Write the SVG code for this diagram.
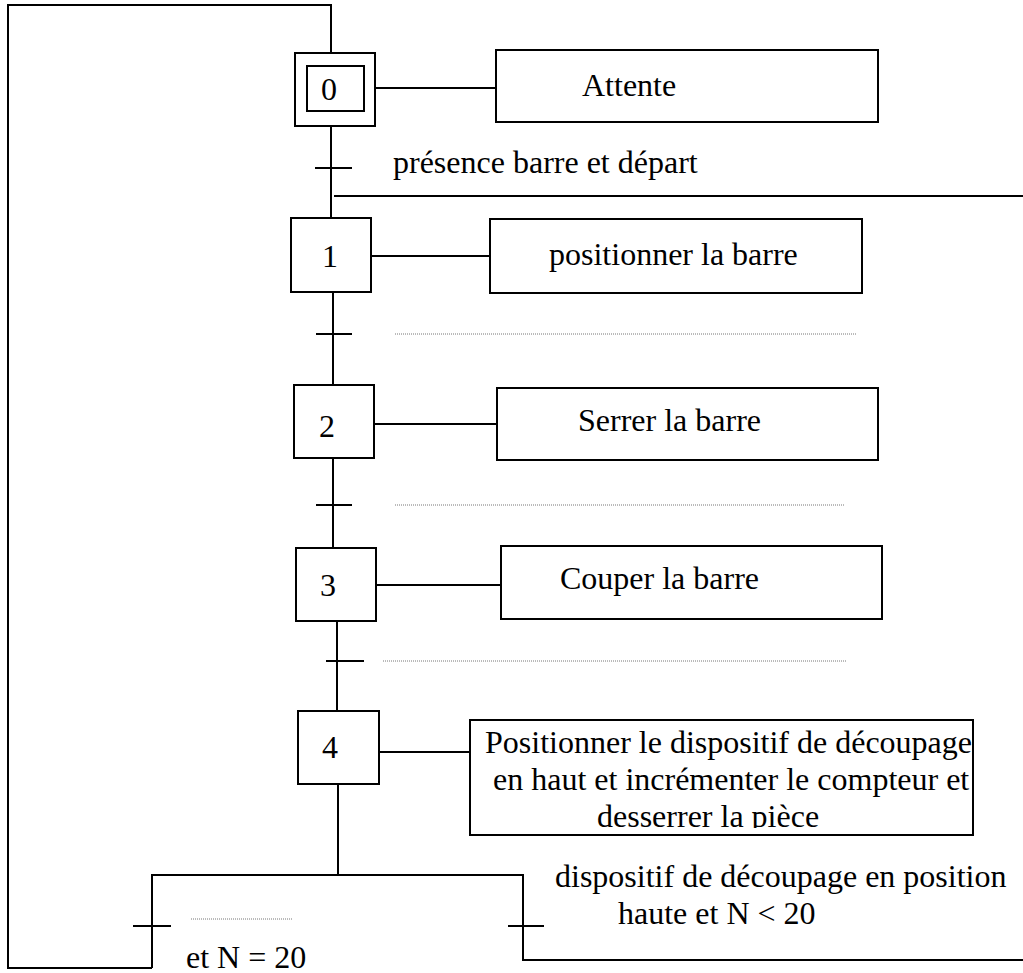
<svg xmlns="http://www.w3.org/2000/svg" width="1023" height="973" viewBox="0 0 1023 973">
<style>
.ln{fill:none;stroke:#000;stroke-width:2}
.box{fill:#fff;stroke:#000;stroke-width:2}
.dot{fill:none;stroke:#777;stroke-width:1;stroke-dasharray:1 1}
text{font-family:"Liberation Serif","Times New Roman",serif;font-size:32px;fill:#000}
.c{text-anchor:middle}
</style>
<defs>
<clipPath id="clip4"><rect x="471" y="721" width="501" height="107"/></clipPath>
</defs>
<g id="connectors">
<path class="ln" d="M331,52 V5 H8 V968 H152"/>
<path class="ln" d="M152,968 V875 H523 V960 H1023"/>
<path class="ln" d="M331,126 V218"/>
<path class="ln" d="M334,196 H1023"/>
<path class="ln" d="M333,292 V385"/>
<path class="ln" d="M333,458 V547"/>
<path class="ln" d="M337,621 V711"/>
<path class="ln" d="M338,784 V875"/>
<path class="ln" d="M375,88 H496"/>
<path class="ln" d="M371,256 H490"/>
<path class="ln" d="M375,424 H497"/>
<path class="ln" d="M376,585 H501"/>
<path class="ln" d="M379,752 H470"/>
</g>
<g id="transitions">
<path class="ln" d="M315,168 H352"/>
<path class="ln" d="M316,334 H352"/>
<path class="ln" d="M316,505 H352"/>
<path class="ln" d="M326,661 H364"/>
<path class="ln" d="M133,926 H171"/>
<path class="ln" d="M508,926 H544"/>
<path class="dot" d="M395,334 H857"/>
<path class="dot" d="M395,505 H845"/>
<path class="dot" d="M383,661 H846"/>
<path class="dot" d="M191,919 H292"/>
<text x="393" y="173">présence barre et départ</text>
<text x="555" y="887">dispositif de découpage en position</text>
<text x="618" y="924">haute et N &lt; 20</text>
<text x="186" y="968">et N = 20</text>
</g>
<g id="step0">
<rect class="box" x="295" y="53" width="80" height="73"/>
<rect class="box" x="307" y="66" width="57" height="45"/>
<text class="c" x="329" y="100">0</text>
</g>
<g id="action0">
<rect class="box" x="496" y="50" width="382" height="72"/>
<text x="582" y="96">Attente</text>
</g>
<g id="step1">
<rect class="box" x="291" y="218" width="80" height="74"/>
<text class="c" x="330" y="267">1</text>
</g>
<g id="action1">
<rect class="box" x="490" y="219" width="372" height="74"/>
<text x="549" y="265">positionner la barre</text>
</g>
<g id="step2">
<rect class="box" x="294" y="385" width="80" height="73"/>
<text class="c" x="327" y="437">2</text>
</g>
<g id="action2">
<rect class="box" x="497" y="388" width="381" height="72"/>
<text x="578" y="431">Serrer la barre</text>
</g>
<g id="step3">
<rect class="box" x="296" y="548" width="80" height="73"/>
<text class="c" x="328" y="596">3</text>
</g>
<g id="action3">
<rect class="box" x="501" y="546" width="381" height="73"/>
<text x="560" y="589">Couper la barre</text>
</g>
<g id="step4">
<rect class="box" x="298" y="711" width="81" height="73"/>
<text class="c" x="330" y="758">4</text>
</g>
<g id="action4">
<rect class="box" x="470" y="720" width="503" height="115"/>
<g clip-path="url(#clip4)">
<text x="485" y="753">Positionner le dispositif de découpage</text>
<text x="493" y="790">en haut et incrémenter le compteur et</text>
<text x="597" y="827">desserrer la pièce</text>
</g>
</g>
</svg>
